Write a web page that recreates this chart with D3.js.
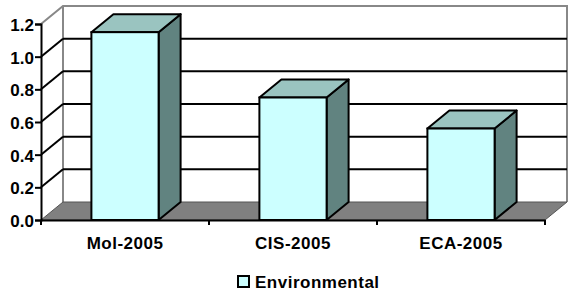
<!DOCTYPE html>
<html>
<head>
<meta charset="utf-8">
<script src="https://cdn.jsdelivr.net/npm/d3@7"></script>
<style>
  body { margin: 0; background: #fff; }
  text { font-family: "Liberation Sans", Arial, sans-serif; font-weight: bold; }
</style>
</head>
<body>
<div id="chart"></div>
<script>
const categories = ["Mol-2005", "CIS-2005", "ECA-2005"];
const values = [1.15, 0.75, 0.56];
const yTicks = [0, 0.2, 0.4, 0.6, 0.8, 1.0, 1.2];
const seriesName = "Environmental";

const width = 569, height = 291;
const dx = 22, dy = -18; // 3d depth
const fs = 17;

const svg = d3.select("#chart").append("svg")
  .attr("width", width).attr("height", height);

const x = d3.scaleBand().domain(categories).range([41, 545]);
const y = d3.scaleLinear().domain([0, 1.2]).range([220, 24]);

const x0 = x.range()[0], x1 = x.range()[1];
const yTop = y(1.2), yBot = y(0);

// paredes
svg.append("path")
  .attr("d", `M${x0},${yTop}L${x0 + dx},${yTop + dy}L${x1 + dx},${yTop + dy}L${x1 + dx},${yBot + dy}`)
  .attr("fill", "none").attr("stroke", "#888").attr("stroke-width", 2);
svg.append("line")
  .attr("x1", x0 + dx).attr("x2", x0 + dx)
  .attr("y1", yTop + dy).attr("y2", yBot + dy)
  .attr("stroke", "#888").attr("stroke-width", 2);

// lineas de la cuadricula
const grid = yTicks.filter(d => d > 0 && d < 1.2);
svg.selectAll(".gback").data(grid).enter().append("line")
  .attr("x1", x0 + dx).attr("x2", x1 + dx)
  .attr("y1", d => y(d) + dy).attr("y2", d => y(d) + dy)
  .attr("stroke", "#000").attr("stroke-width", 2);
svg.selectAll(".gside").data(grid).enter().append("line")
  .attr("x1", x0).attr("x2", x0 + dx)
  .attr("y1", d => y(d)).attr("y2", d => y(d) + dy)
  .attr("stroke", "#000").attr("stroke-width", 2);

// suelo
svg.append("path")
  .attr("d", `M${x0},${yBot}L${x1},${yBot}L${x1 + dx},${yBot + dy}L${x0 + dx},${yBot + dy}Z`)
  .attr("fill", "#808080").attr("stroke", "#555").attr("stroke-width", 1);

// barras
const bw = x.bandwidth() * 0.4;
const bars = svg.selectAll(".bar").data(categories).enter().append("g");
bars.each(function (c, i) {
  const g = d3.select(this);
  const l = x(c) + (x.bandwidth() - bw) / 2, r = l + bw;
  const t = y(values[i]), b = y(0);
  g.append("path")
    .attr("d", `M${r},${t}L${r + dx},${t + dy}L${r + dx},${b + dy}L${r},${b}Z`)
    .attr("fill", "#618380").attr("stroke", "#000").attr("stroke-width", 2).attr("stroke-linejoin", "round");
  g.append("path")
    .attr("d", `M${l},${t}L${l + dx},${t + dy}L${r + dx},${t + dy}L${r},${t}Z`)
    .attr("fill", "#9ac4c0").attr("stroke", "#000").attr("stroke-width", 2).attr("stroke-linejoin", "round");
  g.append("rect")
    .attr("x", l).attr("y", t).attr("width", bw).attr("height", b - t)
    .attr("fill", "#ccffff").attr("stroke", "#000").attr("stroke-width", 2);
});

// ejes
const yAxis = svg.append("g").attr("transform", `translate(${x0},0)`)
  .call(d3.axisLeft(y).tickValues(yTicks).tickFormat(d3.format(".1f")).tickSize(6).tickPadding(2));
const xAxis = svg.append("g").attr("transform", `translate(0,${yBot})`)
  .call(d3.axisBottom(x).tickSize(0).tickPadding(17));
// marcas entre categorias
xAxis.selectAll(".sep").data(categories.concat([null])).enter().append("line")
  .attr("x1", (d, i) => x0 + i * x.step()).attr("x2", (d, i) => x0 + i * x.step())
  .attr("y1", 0).attr("y2", 5).attr("stroke", "#000").attr("stroke-width", 2);

svg.selectAll(".domain").attr("stroke", "#000").attr("stroke-width", 2);
yAxis.selectAll(".tick line").attr("stroke-width", 2);
yAxis.selectAll(".tick text").attr("dy", "0.38em").attr("x", -7);
svg.selectAll(".tick text").attr("font-size", fs).attr("fill", "#000")
  .style("font-family", '"Liberation Sans", Arial, sans-serif').style("font-weight", "bold");
xAxis.selectAll(".tick text").style("letter-spacing", "0.5px");

// leyenda
const leg = svg.append("g").attr("transform", "translate(238,276)");
leg.append("rect").attr("width", 11).attr("height", 11)
  .attr("fill", "#ccffff").attr("stroke", "#000").attr("stroke-width", 2);
leg.append("text").attr("x", 17).attr("y", 11.5).attr("font-size", fs)
  .style("letter-spacing", "0.5px").text(seriesName);
</script>
</body>
</html>
